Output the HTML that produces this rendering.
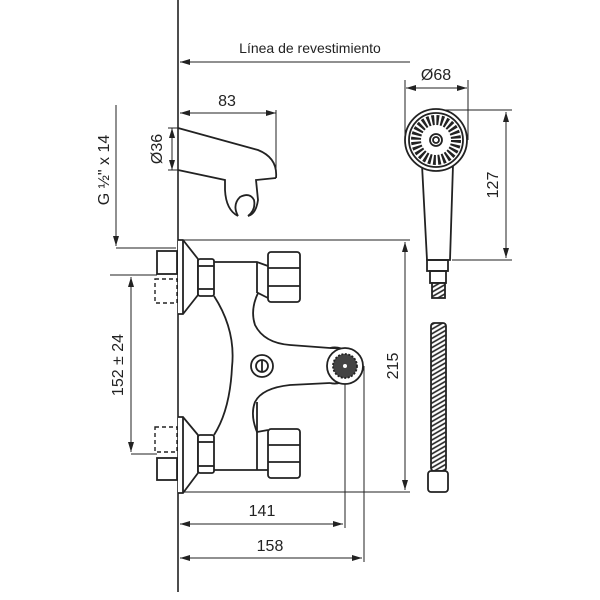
<!DOCTYPE html>
<html><head><meta charset="utf-8"><style>body{margin:0;background:#fff}svg{display:block}text{font-family:"Liberation Sans",sans-serif;fill:#222}</style></head>
<body>
<svg width="600" height="600" viewBox="0 0 600 600" xmlns="http://www.w3.org/2000/svg">
<defs>
<marker id="a" viewBox="0 0 10 6" refX="10" refY="3" markerWidth="10" markerHeight="6" orient="auto-start-reverse" markerUnits="userSpaceOnUse"><path d="M0,0L10,3L0,6z" fill="#222"/></marker>
<pattern id="hz" width="4" height="4" patternUnits="userSpaceOnUse" patternTransform="rotate(-30)"><rect width="4" height="4" fill="#fff"/><line x1="0" y1="1" x2="4" y2="1" stroke="#222" stroke-width="1.6"/></pattern>
</defs>
<g stroke="#222" fill="none" stroke-width="1">
<line x1="178" y1="0" x2="178" y2="592" stroke-width="1.6"/>
<line x1="410" y1="62" x2="180" y2="62" marker-end="url(#a)"/>
<line x1="180" y1="113" x2="276" y2="113" marker-start="url(#a)" marker-end="url(#a)"/>
<line x1="276" y1="110" x2="276" y2="178"/>
<g stroke-width="1.8">
<path d="M178,128 L258,150 Q278,158 276,178"/>
<path d="M178,170 L225,180 L225,190 Q226,210 238,216 M276,178 L256,180 L258,200 Q256,214 248,216"/>
<path d="M238,216 Q232,205 240,197 Q250,192 254,200 Q256,210 248,216"/>
</g>
<line x1="172" y1="128" x2="172" y2="170" marker-start="url(#a)" marker-end="url(#a)"/>
<line x1="168" y1="128" x2="178" y2="128"/><line x1="168" y1="170" x2="178" y2="170"/>
<line x1="116" y1="105" x2="116" y2="246" marker-end="url(#a)"/>
<line x1="116" y1="248" x2="176" y2="248"/>
<line x1="178" y1="240" x2="410" y2="240"/>
<line x1="178" y1="492" x2="410" y2="492"/>
<line x1="405" y1="242" x2="405" y2="490" marker-start="url(#a)" marker-end="url(#a)"/>
<line x1="110" y1="275" x2="157" y2="275"/>
<line x1="131" y1="277" x2="131" y2="452" marker-start="url(#a)" marker-end="url(#a)"/>
<line x1="131" y1="454" x2="157" y2="454"/>
<line x1="180" y1="524" x2="343" y2="524" marker-start="url(#a)" marker-end="url(#a)"/>
<line x1="345" y1="366" x2="345" y2="528"/>
<line x1="180" y1="558" x2="362" y2="558" marker-start="url(#a)" marker-end="url(#a)"/>
<line x1="364" y1="366" x2="364" y2="562"/>
<line x1="406" y1="88" x2="467" y2="88" marker-start="url(#a)" marker-end="url(#a)"/>
<line x1="405" y1="80" x2="405" y2="140"/><line x1="468" y1="80" x2="468" y2="140"/>
<line x1="440" y1="110" x2="512" y2="110"/><line x1="452" y1="260" x2="512" y2="260"/>
<line x1="506" y1="112" x2="506" y2="258" marker-start="url(#a)" marker-end="url(#a)"/>
<g stroke-width="1.8">
<rect x="157" y="251" width="20" height="23" fill="#fff"/>
<rect x="155" y="279" width="22" height="24" stroke-dasharray="4,3" stroke-width="1.4"/>
<rect x="155" y="427" width="22" height="25" stroke-dasharray="4,3" stroke-width="1.4"/>
<rect x="157" y="458" width="20" height="22" fill="#fff"/>
<path d="M178,240 L183,240 L198,259 L198,295 L183,314 L178,314" fill="#fff"/>
<line x1="183" y1="240" x2="183" y2="314"/>
<path d="M178,417 L183,417 L198,435 L198,473 L183,493 L178,493" fill="#fff"/>
<line x1="183" y1="417" x2="183" y2="493"/>
<rect x="198" y="259" width="16" height="37" rx="2" fill="#fff"/>
<line x1="198" y1="266" x2="214" y2="266"/><line x1="198" y1="289" x2="214" y2="289"/>
<rect x="198" y="435" width="16" height="38" rx="2" fill="#fff"/>
<line x1="198" y1="442" x2="214" y2="442"/><line x1="198" y1="466" x2="214" y2="466"/>
<path d="M214,262 L257,262 L268,266 M214,296 Q236,330 232,367 Q230,410 214,435"/>
<path d="M268,298 L258,293 Q250,310 255,325 Q264,343 290,345 L330,348 Q345,348 352,352"/>
<path d="M330,383 L290,385 Q262,388 255,402 Q250,415 257,432 L268,430"/>
<line x1="214" y1="470" x2="268" y2="470"/>
<line x1="257" y1="262" x2="257" y2="293"/>
<line x1="257" y1="402" x2="257" y2="470"/>
<rect x="268" y="252" width="32" height="50" rx="3" fill="#fff"/>
<line x1="268" y1="268" x2="300" y2="268"/><line x1="268" y1="286" x2="300" y2="286"/>
<rect x="268" y="429" width="32" height="49" rx="3" fill="#fff"/>
<line x1="268" y1="445" x2="300" y2="445"/><line x1="268" y1="462" x2="300" y2="462"/>
<path d="M330,348 A19,18 0 1 1 330,383" />
<circle cx="345" cy="366" r="18" fill="#fff"/>
<circle cx="345" cy="366" r="12" fill="#444" stroke-dasharray="2,1.5"/>
<circle cx="345" cy="366" r="2" fill="#fff" stroke="none"/>
<circle cx="262" cy="366" r="11"/>
<circle cx="262" cy="366" r="6"/>
<line x1="262" y1="360" x2="262" y2="372"/>
<path d="M422,165 L427,260 L450,260 L453,165"/>
<circle cx="436" cy="140" r="31" fill="#fff"/>
<circle cx="436" cy="140" r="27"/>
<circle cx="436" cy="140" r="20" fill="#fff" stroke-dasharray="2.5,2" stroke-width="10"/>
<circle cx="436" cy="140" r="6" fill="#fff"/>
<circle cx="436" cy="140" r="3"/>
<rect x="427" y="260" width="21" height="11"/>
<rect x="430" y="271" width="16" height="12"/>
<rect x="432" y="283" width="13" height="15" fill="url(#hz)"/>
<rect x="431" y="323" width="15" height="148" rx="3" fill="url(#hz)"/>
<rect x="428" y="471" width="20" height="21" rx="3" fill="#fff"/>
</g>
</g>
<text x="310" y="53" font-size="14" text-anchor="middle">Línea de revestimiento</text>
<text x="227" y="106" font-size="16" text-anchor="middle">83</text>
<text x="436" y="80" font-size="16" text-anchor="middle">Ø68</text>
<text x="262" y="516" font-size="16" text-anchor="middle">141</text>
<text x="270" y="551" font-size="16" text-anchor="middle">158</text>
<text transform="translate(162,149) rotate(-90)" font-size="16" text-anchor="middle">Ø36</text>
<text transform="translate(109,170) rotate(-90)" font-size="16" text-anchor="middle">G ½" x 14</text>
<text transform="translate(123,365) rotate(-90)" font-size="16" text-anchor="middle">152 ± 24</text>
<text transform="translate(398,366) rotate(-90)" font-size="16" text-anchor="middle">215</text>
<text transform="translate(498,185) rotate(-90)" font-size="16" text-anchor="middle">127</text>
</svg>
</body></html>
